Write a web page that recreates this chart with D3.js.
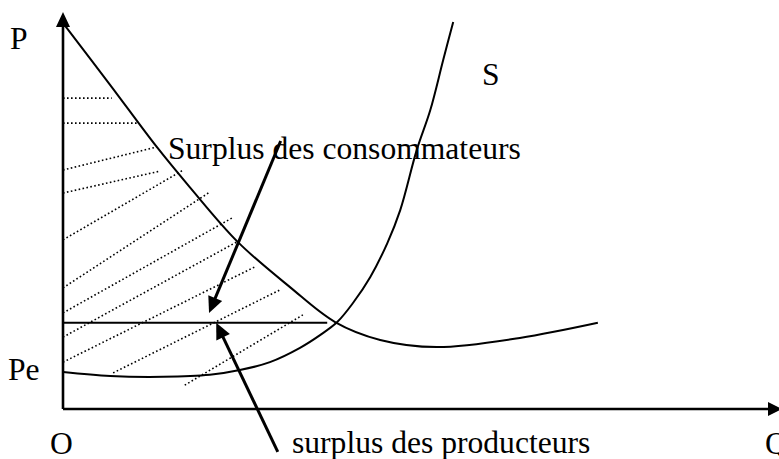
<!DOCTYPE html>
<html>
<head>
<meta charset="utf-8">
<title>Surplus</title>
<style>
  body { margin: 0; background: #fff; }
  svg text { font-family: "Liberation Serif", "Times New Roman", serif; font-size: 31.6px; fill: #000; }
  .curve { fill: none; stroke: #000; stroke-width: 2; }
  .hatch { stroke: #000; stroke-width: 1.6; stroke-dasharray: 1.6 2.4; }
</style>
</head>
<body>
<svg width="779" height="459"></svg>
<script src="https://cdnjs.cloudflare.com/ajax/libs/d3/7.8.5/d3.min.js"></script>
<script>
// courbe de demande (Q, P)
const demande = [[0.3, 96.5], [6.6, 81.6], [13.1, 66.0], [17.7, 55.9], [24.4, 42.1], [31.7, 30.7],
  [38.0, 21.9], [44.3, 17.4], [52.2, 15.6], [63.8, 17.9], [74.7, 21.7]];
// courbe d'offre S
const offre = [[0, 9.3], [6.6, 8.3], [14.0, 8.1], [20.5, 8.6], [24.7, 9.8], [28.9, 11.8], [33.1, 15.4],
  [35.9, 18.6], [38.3, 21.9], [40.5, 26.7], [42.9, 33.2], [45.3, 41.8], [47.1, 50.1], [49.4, 65.2],
  [51.3, 75.3], [53.1, 87.9], [54.5, 97.5]];
// prix d'equilibre et quantite
const pe = 21.7;
const qe = 36.9;
// hachures en pointille [q1, p1, q2, p2]
const hachures = [[0, 78.3, 6.8, 78.3], [0, 72.0, 10.3, 72.0], [0, 60.2, 13.1, 66.0], [0, 54.4, 13.5, 59.9],
  [0, 42.6, 16.8, 60.2], [0, 30.5, 20.3, 54.4], [0, 24.2, 23.6, 48.1], [0, 18.1, 24.3, 42.1],
  [0, 11.8, 26.8, 35.8], [7.0, 9.1, 30.3, 30.0], [17.0, 6.0, 33.5, 23.7]];
// fleches des legendes [q1, p1, q2, p2]
const fleches = [[30.4, 67.5, 20.4, 24.2], [30.0, -10.8, 21.4, 21.7]];
// textes
const textes = ["P", "Pe", "O", "Q", "S", "Surplus des consommateurs", "surplus des producteurs"];

const svg = d3.select("svg");
const x = d3.scaleLinear().domain([0, 100]).range([63, 779]);
const y = d3.scaleLinear().domain([0, 100]).range([409, 12]);

// triangle plein au bout d'un segment
function tete(x1, y1, x2, y2, len, half) {
  const a = Math.atan2(y2 - y1, x2 - x1);
  const bx = x2 - len * Math.cos(a), by = y2 - len * Math.sin(a);
  const px = -Math.sin(a) * half, py = Math.cos(a) * half;
  svg.append("polygon")
    .attr("points", [[x2, y2], [bx + px, by + py], [bx - px, by - py]].map(p => p.join(",")).join(" "))
    .attr("fill", "#000");
}

// hachures
svg.selectAll(".hatch").data(hachures).enter().append("line")
  .attr("class", "hatch")
  .attr("x1", d => x(d[0])).attr("y1", d => y(d[1]))
  .attr("x2", d => x(d[2])).attr("y2", d => y(d[3]));

// axes
svg.append("line").attr("x1", x(0)).attr("y1", y(0)).attr("x2", x(0)).attr("y2", y(96.5))
  .attr("stroke", "#000").attr("stroke-width", 2.6);
tete(x(0), y(0), x(0), y(100), 15, 7);
svg.append("line").attr("x1", x(0)).attr("y1", y(0)).attr("x2", 770).attr("y2", y(0))
  .attr("stroke", "#000").attr("stroke-width", 2.6);
tete(x(0), y(0), 782, y(0), 14, 7);

// courbes
const ligne = d3.line().x(d => x(d[0])).y(d => y(d[1])).curve(d3.curveCatmullRom.alpha(0.5));
svg.append("path").attr("class", "curve").attr("d", ligne(demande));
svg.append("path").attr("class", "curve").attr("d", ligne(offre));

// prix d'equilibre
svg.append("line").attr("x1", x(0)).attr("y1", y(pe)).attr("x2", x(qe)).attr("y2", y(pe))
  .attr("stroke", "#000").attr("stroke-width", 2);

// fleches
fleches.forEach(f => {
  const x1 = x(f[0]), y1 = y(f[1]), x2 = x(f[2]), y2 = y(f[3]);
  const a = Math.atan2(y2 - y1, x2 - x1);
  svg.append("line").attr("x1", x1).attr("y1", y1)
    .attr("x2", x2 - 10 * Math.cos(a)).attr("y2", y2 - 10 * Math.sin(a))
    .attr("stroke", "#000").attr("stroke-width", 3);
  tete(x1, y1, x2, y2, 16, 7.5);
});

// textes
const pos = [[10, 49], [8, 380], [50, 454], [765, 454], [482, 85], [168, 159], [292, 453]];
svg.selectAll("text").data(textes).enter().append("text")
  .attr("x", (d, i) => pos[i][0]).attr("y", (d, i) => pos[i][1])
  .text(d => d);
</script>
</body>
</html>
